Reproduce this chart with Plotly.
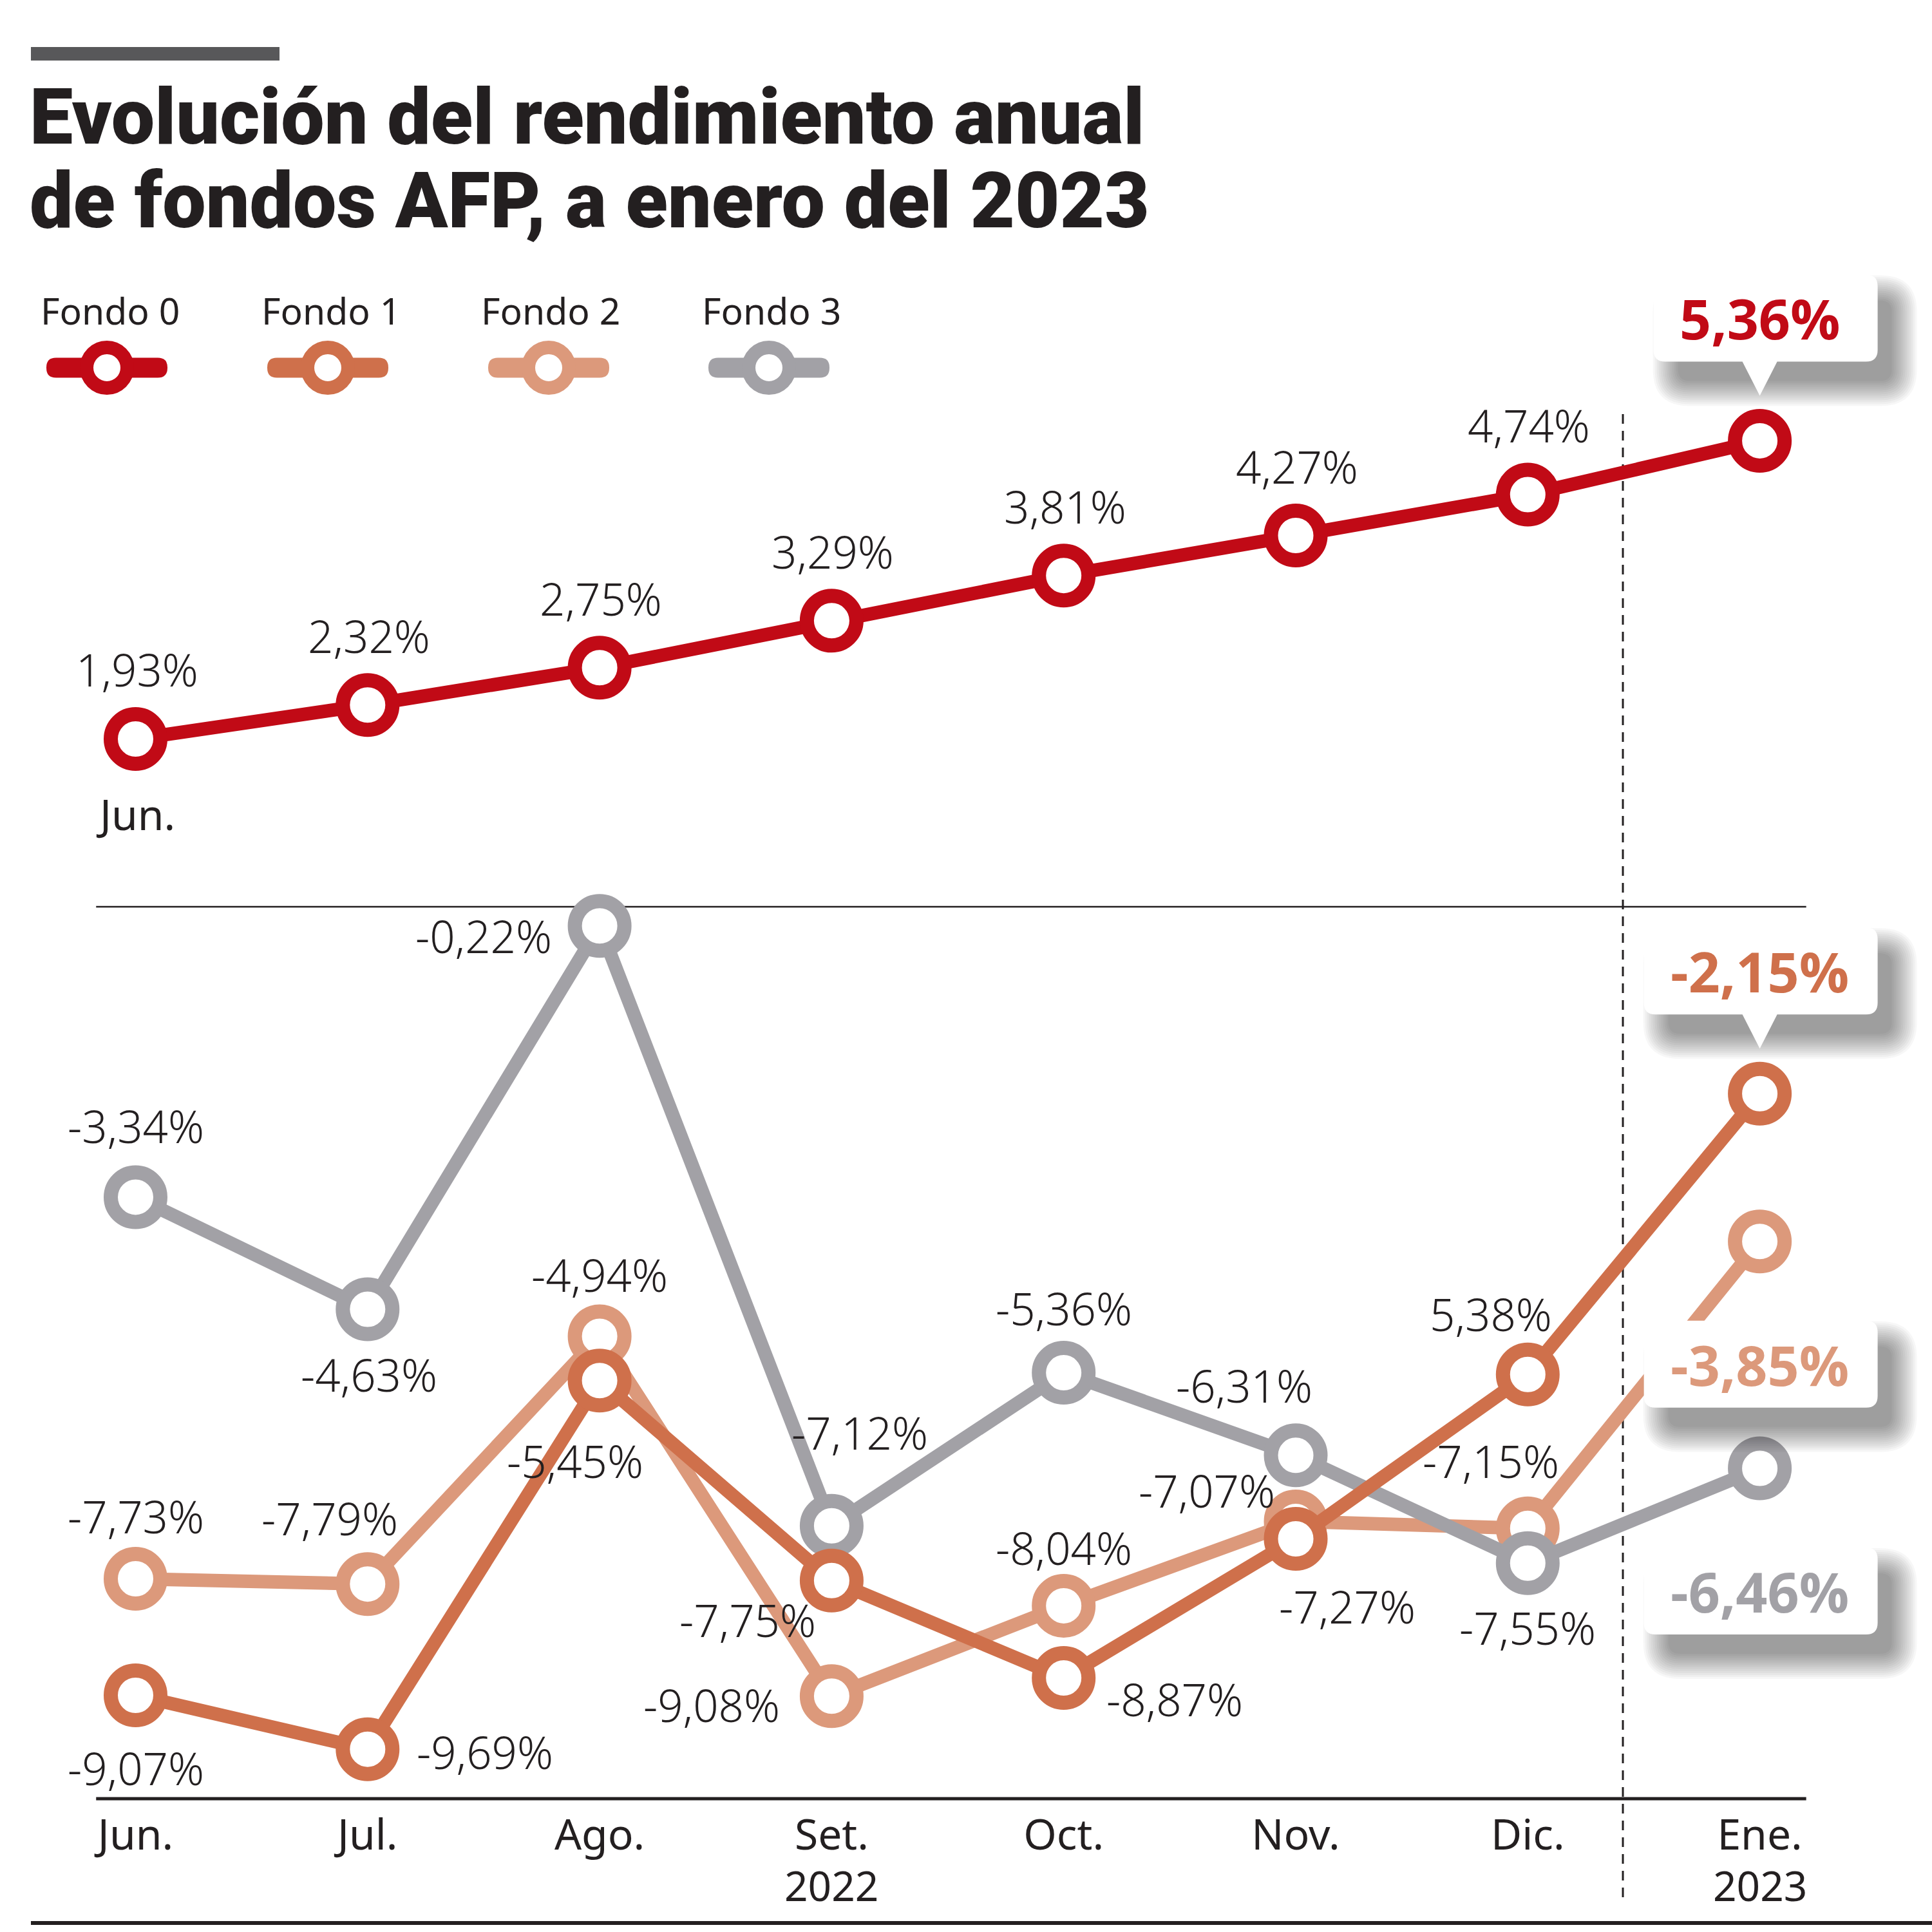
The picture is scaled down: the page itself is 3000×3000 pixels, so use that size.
import plotly.graph_objects as go

# ---------------- data ----------------
months = ["Jun.", "Jul.", "Ago.", "Set.", "Oct.", "Nov.", "Dic.", "Ene."]
years = {"Set.": "2022", "Ene.": "2023"}
series_names = ["Fondo 0", "Fondo 1", "Fondo 2", "Fondo 3"]
fondo0 = [1.93, 2.32, 2.75, 3.29, 3.81, 4.27, 4.74, 5.36]
fondo1 = [-9.07, -9.69, -5.45, -7.75, -8.87, -7.27, -5.38, -2.15]
fondo2 = [-7.73, -7.79, -4.94, -9.08, -8.04, -7.07, -7.15, -3.85]
fondo3 = [-3.34, -4.63, -0.22, -7.12, -5.36, -6.31, -7.55, -6.46]


def fmt(v):
    return f"{v:.2f}%".replace(".", ",")


labels0 = [fmt(v) for v in fondo0]
labels1 = [fmt(v) for v in fondo1]
labels1[6] = "5,38%"  # printed this way in the original graphic
labels2 = [fmt(v) for v in fondo2]
labels3 = [fmt(v) for v in fondo3]

# ---------------- style ----------------
W = H = 3000
MB = 207
PLOT_H = H - MB
TXT = "#231F20"
COLORS = {"Fondo 0": "#C10A16", "Fondo 1": "#CF704B", "Fondo 2": "#DC997B", "Fondo 3": "#A2A1A6"}
LBL_FONT = "Noto Sans"
TITLE_FONT = "Roboto"
CALL_FONT = "Open Sans"

x = list(range(len(months)))
ZERO_PX = 1408
PX_PER_UNIT = 135.0
y_range = [-(PLOT_H - ZERO_PX) / PX_PER_UNIT, ZERO_PX / PX_PER_UNIT]
X0_PX, XSTEP = 210.5, 360.3
x_range = [-X0_PX / XSTEP, (W - X0_PX) / XSTEP]


def py2paper(py):
    return (PLOT_H - py) / PLOT_H


# label offsets (dx, dy) in px, dy positive = up
off0 = [(2, 108)] * 7
off1 = [(0, -113), (182, -4), (-38, -124), (-130, -61), (172, -33), (80, -105), (-57, 94)]
off2 = [(0, 98), (-59, 103), (0, 96), (-186, -13), (0, 90), (-138, 48), (-57, 105)]
off3 = [(0, 111), (2, -101), (-180, -15), (44, 145), (0, 101), (-80, 109), (0, -100)]

fig = go.Figure()

draw_order = [("Fondo 0", fondo0), ("Fondo 2", fondo2), ("Fondo 3", fondo3), ("Fondo 1", fondo1)]
for name, vals in draw_order:
    c = COLORS[name]
    fig.add_trace(go.Scatter(
        x=x, y=vals, name=name, mode="lines+markers",
        line=dict(color=c, width=21),
        marker=dict(size=77, color="white", line=dict(color=c, width=22)),
        cliponaxis=False, hoverinfo="skip",
    ))

annotations = []
shapes = []

# data labels
for vals, labs, offs in [(fondo0, labels0, off0), (fondo1, labels1, off1),
                         (fondo2, labels2, off2), (fondo3, labels3, off3)]:
    for i in range(len(months) - 1):
        dx, dy = offs[i]
        annotations.append(dict(
            x=x[i], y=vals[i], xref="x", yref="y", text=labs[i], showarrow=False,
            xshift=dx, yshift=dy, xanchor="center", yanchor="middle",
            font=dict(family=LBL_FONT, size=69, color=TXT, weight=300),
        ))

# month label under first Fondo 0 point
annotations.append(dict(x=x[0], y=fondo0[0], xref="x", yref="y", text=months[0], showarrow=False,
                        yshift=-116, xanchor="center", yanchor="middle",
                        font=dict(family=LBL_FONT, size=66, color=TXT)))

# year labels under the month ticks
for m, yr in years.items():
    annotations.append(dict(x=x[months.index(m)], y=py2paper(2927), xref="x", yref="paper", text=yr,
                            showarrow=False, xanchor="center", yanchor="middle",
                            font=dict(family=LBL_FONT, size=64, color=TXT)))


# callouts
def callout_path(left, right, bottom, top, r, tip, half, pointer_at_bottom):
    if pointer_at_bottom:
        return (f"M {-half},{bottom} L 0,{tip} L {half},{bottom} L {right - r},{bottom} "
                f"Q {right},{bottom} {right},{bottom + r} L {right},{top - r} "
                f"Q {right},{top} {right - r},{top} L {left + r},{top} "
                f"Q {left},{top} {left},{top - r} L {left},{bottom + r} "
                f"Q {left},{bottom} {left + r},{bottom} Z")
    return (f"M {half},{top} L 0,{tip} L {-half},{top} L {left + r},{top} "
            f"Q {left},{top} {left},{top - r} L {left},{bottom + r} "
            f"Q {left},{bottom} {left + r},{bottom} L {right - r},{bottom} "
            f"Q {right},{bottom} {right},{bottom + r} L {right},{top - r} "
            f"Q {right},{top} {right - r},{top} Z")


def rrect(left, right, bottom, top, r):
    return (f"M {left + r},{bottom} L {right - r},{bottom} Q {right},{bottom} {right},{bottom + r} "
            f"L {right},{top - r} Q {right},{top} {right - r},{top} L {left + r},{top} "
            f"Q {left},{top} {left},{top - r} L {left},{bottom + r} Q {left},{bottom} {left + r},{bottom} Z")


GAP, PH, BH, HALF, R = 70, 53, 135, 27, 18
last = len(months) - 1
for name, vals, up, left in [("Fondo 0", fondo0, True, -165), ("Fondo 1", fondo1, True, -180),
                             ("Fondo 2", fondo2, False, -180), ("Fondo 3", fondo3, False, -180)]:
    right = 183
    if up:
        tip, bottom, top = GAP, GAP + PH, GAP + PH + BH
    else:
        tip, top, bottom = -GAP, -(GAP + PH), -(GAP + PH + BH)
    # soft shadow, offset down-right
    for k in range(14):
        e = k * 3
        shapes.append(dict(
            type="path", xref="x", yref="y", xsizemode="pixel", ysizemode="pixel",
            xanchor=x[last], yanchor=vals[last],
            path=rrect(left + 38 - e, right + 22 + e, bottom - 30 - e, top - 40 + e, R + e),
            fillcolor="rgba(0,0,0,0.032)", line=dict(width=0), layer="above",
        ))
    shapes.append(dict(
        type="path", xref="x", yref="y", xsizemode="pixel", ysizemode="pixel",
        xanchor=x[last], yanchor=vals[last],
        path=callout_path(left, right, bottom, top, R, tip, HALF, up),
        fillcolor="white", line=dict(width=0), layer="above",
    ))
    annotations.append(dict(
        x=x[last], y=vals[last], xref="x", yref="y", text=f"<b>{fmt(vals[last])}</b>",
        showarrow=False, yshift=(top + bottom) / 2, xanchor="center", yanchor="middle",
        font=dict(family=CALL_FONT, size=86, color=COLORS[name], weight=800),
    ))

# axis lines
shapes.append(dict(type="line", xref="x", yref="y", x0=-0.17, x1=7.2, y0=0, y1=0,
                   line=dict(color=TXT, width=2.5), layer="below"))
shapes.append(dict(type="line", xref="x", yref="paper", x0=-0.17, x1=7.2, y0=0, y1=0,
                   line=dict(color=TXT, width=5), layer="below"))
# dashed separator between 2022 and 2023
sep = x[-2] + 0.41 * (x[-1] - x[-2])
shapes.append(dict(type="line", xref="x", yref="paper", x0=sep, x1=sep,
                   y0=py2paper(2946), y1=py2paper(641),
                   line=dict(color=TXT, width=3, dash="15px,11px"), layer="below"))
# bottom rule
shapes.append(dict(type="line", xref="paper", yref="paper", x0=48 / W, x1=1,
                   y0=py2paper(2986), y1=py2paper(2986), line=dict(color=TXT, width=6)))
# top grey bar
shapes.append(dict(type="rect", xref="paper", yref="paper", x0=48 / W, x1=434 / W,
                   y0=py2paper(94), y1=py2paper(73), fillcolor="#58585A", line=dict(width=0)))

# title
for txt, py in [("Evolución del rendimiento anual", 182), ("de fondos AFP, a enero del 2023", 312)]:
    annotations.append(dict(x=44 / W, y=py2paper(py), xref="paper", yref="paper",
                            text=txt, showarrow=False, xanchor="left", yanchor="middle",
                            font=dict(family=TITLE_FONT, size=120, color=TXT, weight=900)))

# legend (manual)
leg_cx = [166, 509, 852, 1194]
leg_tx = [61, 404, 745, 1088]
for name, cx, tx in zip(series_names, leg_cx, leg_tx):
    c = COLORS[name]
    ax_ = cx / W
    ay_ = py2paper(571)
    shapes.append(dict(type="path", xref="paper", yref="paper", xsizemode="pixel", ysizemode="pixel",
                       xanchor=ax_, yanchor=ay_, path=rrect(-94, 94, -15.5, 15.5, 15),
                       fillcolor=c, line=dict(width=0)))
    shapes.append(dict(type="circle", xref="paper", yref="paper", xsizemode="pixel", ysizemode="pixel",
                       xanchor=ax_, yanchor=ay_, x0=-31.5, x1=31.5, y0=-31.5, y1=31.5,
                       fillcolor="white", line=dict(color=c, width=21)))
    annotations.append(dict(x=tx / W, y=py2paper(482), xref="paper", yref="paper",
                            text=name, showarrow=False, xanchor="left", yanchor="middle",
                            font=dict(family=LBL_FONT, size=57, color=TXT)))

fig.update_layout(
    width=W, height=H, margin=dict(l=0, r=0, t=0, b=MB, pad=0),
    paper_bgcolor="white", plot_bgcolor="white", showlegend=False,
    xaxis=dict(range=x_range, tickvals=x, ticktext=months, showgrid=False, zeroline=False,
               showline=False, ticks="", ticklabelstandoff=12,
               tickfont=dict(family=LBL_FONT, size=66, color=TXT)),
    yaxis=dict(range=y_range, visible=False, showgrid=False, zeroline=False),
    annotations=annotations, shapes=shapes,
)

fig.write_html("out.html", config={"displayModeBar": False},
               post_script="document.body.style.margin='0';")
